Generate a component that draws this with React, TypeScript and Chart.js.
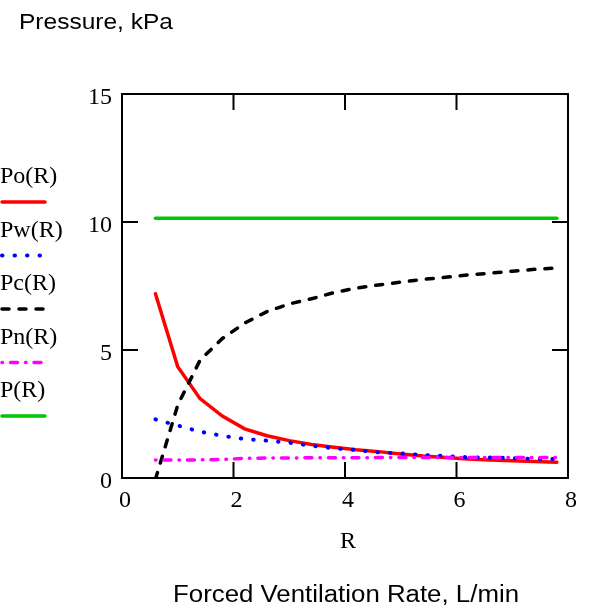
import React, { useEffect, useRef } from "react";
import { Chart, registerables } from "chart.js";

Chart.register(...registerables);

const rValues = [0.6, 1.0, 1.4, 1.8, 2.2, 2.6, 3.0, 3.4, 3.8, 4.2, 4.6, 5.0, 5.4, 5.8, 6.2, 6.6, 7.0, 7.4, 7.8];
const poValues = [7.2, 4.35, 3.1, 2.42, 1.92, 1.65, 1.46, 1.31, 1.2, 1.1, 1.03, 0.94, 0.86, 0.8, 0.74, 0.7, 0.67, 0.64, 0.62];
const pwValues = [2.29, 2.05, 1.81, 1.65, 1.52, 1.46, 1.38, 1.26, 1.16, 1.09, 1.0, 0.96, 0.9, 0.86, 0.81, 0.8, 0.78, 0.74, 0.74];
const pcValues = [-0.05, 2.85, 4.6, 5.45, 6.05, 6.5, 6.8, 7.0, 7.24, 7.42, 7.54, 7.65, 7.76, 7.84, 7.93, 8.0, 8.08, 8.15, 8.2];
const pnValues = [0.7, 0.7, 0.71, 0.72, 0.77, 0.78, 0.78, 0.79, 0.79, 0.79, 0.8, 0.8, 0.8, 0.8, 0.8, 0.8, 0.8, 0.8, 0.8];
const pValues = [10.15, 10.15, 10.15, 10.15, 10.15, 10.15, 10.15, 10.15, 10.15, 10.15, 10.15, 10.15, 10.15, 10.15, 10.15, 10.15, 10.15, 10.15, 10.15];

const seriesLabels = ["Po(R)", "Pw(R)", "Pc(R)", "Pn(R)", "P(R)"];
const xTicks = [0, 2, 4, 6, 8];
const yTicks = [0, 5, 10, 15];
const xTitle = "R";
const bottomTitle = "Forced Ventilation Rate, L/min";
const topTitle = "Pressure, kPa";

const SERIF = '"Liberation Serif", "Times New Roman", serif';
const SANS = '"Liberation Sans", Arial, sans-serif';

const toPts = (ys: number[]) => ys.map((y, i) => ({ x: rValues[i], y }));

function fitText(ctx: CanvasRenderingContext2D, text: string, x: number, y: number, width: number) {
  const w = ctx.measureText(text).width;
  ctx.save();
  ctx.translate(x, y);
  ctx.scale(width / w, 1);
  ctx.fillText(text, 0, 0);
  ctx.restore();
}

const decorPlugin = {
  id: "decor",
  afterDraw(chart: any) {
    const { ctx, chartArea: a } = chart;
    const xs = chart.scales.x;
    const ys = chart.scales.y;
    ctx.save();
    ctx.strokeStyle = "#000";
    ctx.lineWidth = 2;
    ctx.setLineDash([]);
    ctx.lineCap = "butt";
    ctx.strokeRect(a.left, a.top, a.right - a.left, a.bottom - a.top);
    const tl = 16;
    ctx.beginPath();
    xTicks.forEach((t) => {
      const px = xs.getPixelForValue(t);
      ctx.moveTo(px, a.bottom);
      ctx.lineTo(px, a.bottom - tl);
      ctx.moveTo(px, a.top);
      ctx.lineTo(px, a.top + tl);
    });
    yTicks.forEach((t) => {
      const py = ys.getPixelForValue(t);
      ctx.moveTo(a.left, py);
      ctx.lineTo(a.left + tl, py);
      ctx.moveTo(a.right, py);
      ctx.lineTo(a.right - tl, py);
    });
    ctx.stroke();

    ctx.fillStyle = "#000";
    ctx.font = `24px ${SERIF}`;
    ctx.textBaseline = "alphabetic";
    ctx.textAlign = "right";
    yTicks.forEach((t) => {
      const py = ys.getPixelForValue(t);
      ctx.fillText(String(t), a.left - 10, py + 10);
    });
    ctx.textAlign = "center";
    xTicks.forEach((t) => {
      const px = xs.getPixelForValue(t);
      ctx.fillText(String(t), px + 3, a.bottom + 29);
    });
    ctx.font = `24px ${SERIF}`;
    ctx.fillText(xTitle, (a.left + a.right) / 2 + 3, a.bottom + 70);

    ctx.textAlign = "left";
    ctx.font = `23px ${SANS}`;
    fitText(ctx, bottomTitle, 173, 602, 346);
    ctx.font = `22px ${SANS}`;
    fitText(ctx, topTitle, 19, 29, 154);

    // legend
    chart.data.datasets.forEach((ds: any, i: number) => {
      const base = 183 + i * 53.5;
      ctx.font = `24px ${SERIF}`;
      ctx.fillStyle = "#000";
      ctx.textAlign = "left";
      ctx.fillText(ds.label, 0, base);
      ctx.beginPath();
      ctx.strokeStyle = ds.borderColor;
      ctx.lineWidth = ds.borderWidth;
      ctx.lineCap = ds.borderCapStyle || "butt";
      ctx.setLineDash(ds.borderDash || []);
      ctx.moveTo(2, base + 19);
      ctx.lineTo(45, base + 19);
      ctx.stroke();
    });
    ctx.restore();
  },
};

export default function App() {
  const ref = useRef<HTMLCanvasElement | null>(null);
  useEffect(() => {
    if (!ref.current) return;
    const chart = new Chart(ref.current, {
      type: "line",
      data: {
        datasets: [
          { label: seriesLabels[0], data: toPts(poValues), borderColor: "#FF0000", borderWidth: 3.5, borderDash: [], borderCapStyle: "round", order: 5 },
          { label: seriesLabels[1], data: toPts(pwValues), borderColor: "#0000FF", borderWidth: 4, borderDash: [0.5, 12], borderCapStyle: "round", order: 4 },
          { label: seriesLabels[2], data: toPts(pcValues), borderColor: "#000000", borderWidth: 3.5, borderDash: [7, 10], borderCapStyle: "round", order: 3 },
          { label: seriesLabels[3], data: toPts(pnValues), borderColor: "#FF00FF", borderWidth: 3.5, borderDash: [0.5, 8, 7, 8], borderCapStyle: "round", order: 2 },
          { label: seriesLabels[4], data: toPts(pValues), borderColor: "#00C800", borderWidth: 3.5, borderDash: [], borderCapStyle: "round", order: 1 },
        ] as any,
      },
      options: {
        animation: false,
        responsive: false,
        maintainAspectRatio: false,
        layout: { padding: { left: 122, right: 21, top: 94, bottom: 136 } },
        elements: { point: { radius: 0 }, line: { tension: 0 } },
        plugins: { legend: { display: false }, tooltip: { enabled: false } },
        scales: {
          x: { type: "linear", min: 0, max: 8, display: false },
          y: { type: "linear", min: 0, max: 15, display: false },
        },
      },
      plugins: [decorPlugin],
    });
    return () => chart.destroy();
  }, []);
  return (
    <div style={{ position: "absolute", left: 0, top: 0, width: 589, height: 614, background: "#fff" }}>
      <canvas ref={ref} width={589} height={614} style={{ width: 589, height: 614 }} />
    </div>
  );
}
